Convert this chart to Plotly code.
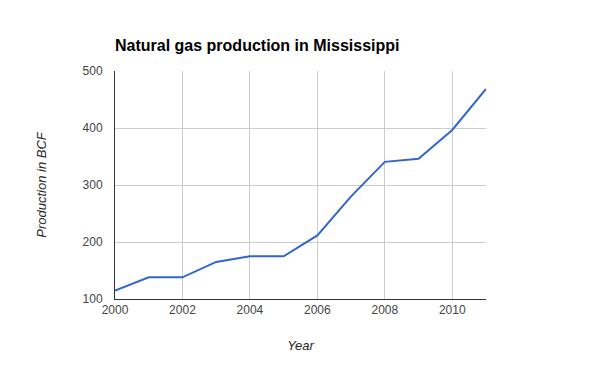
import plotly.graph_objects as go

years = [2000, 2001, 2002, 2003, 2004, 2005, 2006, 2007, 2008, 2009, 2010, 2011]
production = [114.6, 138, 138, 165, 175, 175, 211.5, 280, 340.6, 346, 396.6, 468.5]
x_ticks = [2000, 2002, 2004, 2006, 2008, 2010]
y_ticks = [100, 200, 300, 400, 500]

fig = go.Figure()
fig.add_trace(go.Scatter(x=years, y=production, mode="lines",
                         line=dict(color="#3366cc", width=2), hoverinfo="skip"))

font = "Liberation Sans, Arial, sans-serif"
fig.update_layout(
    width=600, height=371,
    margin=dict(l=107, r=122, t=63, b=80),
    paper_bgcolor="white", plot_bgcolor="white",
    showlegend=False,
    font=dict(family=font, size=12, color="#444444"),
    title=dict(text="<b>Natural gas production in Mississippi</b>",
               x=0, xanchor="left", xref="paper", y=1 - 37/371, yanchor="middle",
               font=dict(family=font, size=16, color="black")),
    xaxis=dict(range=[2000, 2011], tickvals=x_ticks, ticktext=[str(v) for v in x_ticks],
               showgrid=True, gridcolor="#cccccc", gridwidth=1,
               showline=True, linecolor="#333333", linewidth=1,
               zeroline=False, ticks="", tickfont=dict(size=12, color="#444444"),
               title=dict(text="<i>Year</i>", font=dict(size=13, color="#222222"), standoff=24)),
    yaxis=dict(range=[100, 500], tickvals=y_ticks, ticktext=[str(v) for v in y_ticks],
               showgrid=True, gridcolor="#cccccc", gridwidth=1,
               showline=True, linecolor="#333333", linewidth=1,
               zeroline=False, ticks="", ticklabelstandoff=9, tickfont=dict(size=12, color="#444444"),
               title=dict(text="<i>Production in BCF</i>", font=dict(size=13, color="#222222"), standoff=33)),
)
fig.write_html("out.html")
